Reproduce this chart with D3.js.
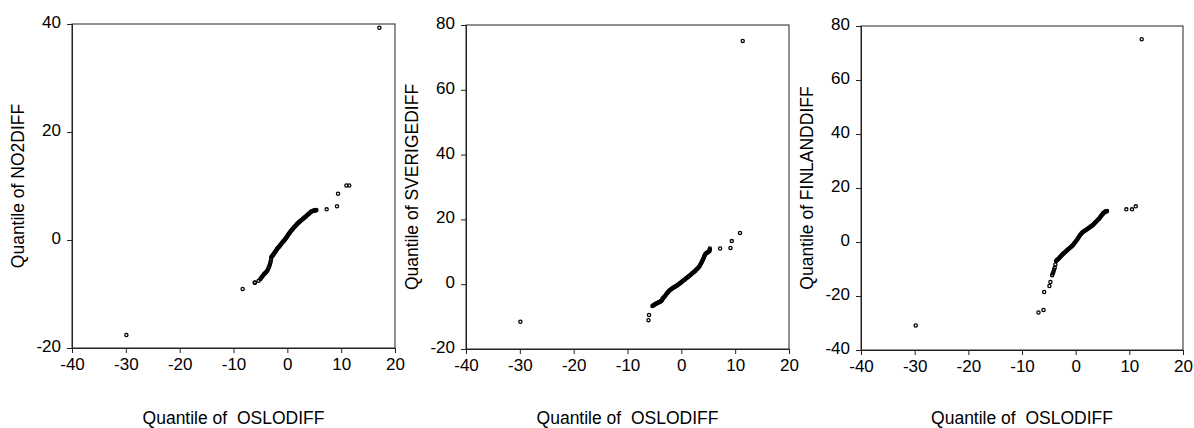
<!DOCTYPE html>
<html>
<head>
<meta charset="utf-8">
<script src="https://cdn.jsdelivr.net/npm/d3@7"></script>
<style>
  html, body { margin: 0; padding: 0; background: #fff; }
  svg { display: block; }
  text { font-family: Arial, "Liberation Sans", sans-serif; fill: #000; }
</style>
</head>
<body>
<svg id="chart" width="1194" height="428"></svg>
<script>
// Quantile pairs: x = quantiles of OSLODIFF, y = quantiles of the compared series
const no2X = [-29.9, -8.3, -6.07, -6.0, -5.33, -5.0, -4.85, -4.7, -4.55, -4.4, -4.25, -4.1, -3.93, -3.77,
  -3.63, -3.5, -3.39, -3.28, -3.19, -3.1, -3.03, -2.97, -2.88, -2.8, -2.7, -2.6, -2.5, -2.4, -2.31,
  -2.23, -2.11, -2.0, -1.9, -1.8, -1.67, -1.55, -1.42, -1.3, -1.17, -1.05, -0.92, -0.8, -0.67, -0.55,
  -0.46, -0.37, -0.26, -0.15, -0.05, 0.05, 0.15, 0.25, 0.34, 0.43, 0.56, 0.7, 0.82, 0.95, 1.07, 1.2,
  1.34, 1.49, 1.62, 1.75, 1.87, 2.0, 2.1, 2.2, 2.31, 2.42, 2.56, 2.7, 2.85, 3.0, 3.12, 3.25, 3.39,
  3.53, 3.66, 3.8, 3.95, 4.1, 4.25, 4.4, 4.55, 4.7, 4.85, 5.0, 5.1, 5.2, 5.3, 5.39,
  7.3, 9.23, 9.42, 10.97, 11.5, 17.1];
const no2Y = [-17.6, -9.07, -7.9, -7.85, -7.55, -7.2, -7.0, -6.8, -6.6, -6.4, -6.25, -6.1, -5.92, -5.74,
  -5.5, -5.2, -4.95, -4.63, -4.3, -4.0, -3.6, -3.2, -3.07, -2.95, -2.82, -2.7, -2.55, -2.4, -2.28,
  -2.16, -1.98, -1.8, -1.65, -1.5, -1.37, -1.25, -1.09, -0.93, -0.77, -0.6, -0.45, -0.3, -0.17, -0.05,
  0.07, 0.19, 0.35, 0.5, 0.65, 0.8, 0.95, 1.1, 1.22, 1.35, 1.52, 1.7, 1.85, 2.0, 2.15, 2.3,
  2.45, 2.6, 2.75, 2.9, 3.03, 3.15, 3.25, 3.35, 3.43, 3.5, 3.62, 3.75, 3.88, 4.0, 4.1, 4.2, 4.32,
  4.44, 4.57, 4.7, 4.83, 4.95, 5.1, 5.24, 5.32, 5.38, 5.42, 5.45, 5.48, 5.5, 5.53, 5.56,
  5.68, 6.24, 8.57, 10.1, 10.1, 39.3];

const sverigeX = [-29.9, -6.1, -6.0, -5.37, -5.23, -5.1, -4.95, -4.8, -4.65, -4.5, -4.35, -4.2, -4.05,
  -3.9, -3.8, -3.7, -3.6, -3.5, -3.4, -3.3, -3.15, -3.0, -2.83, -2.67, -2.53, -2.4, -2.25, -2.1,
  -1.95, -1.8, -1.65, -1.5, -1.35, -1.2, -1.06, -0.93, -0.76, -0.6, -0.45, -0.3, -0.15, 0.0, 0.15,
  0.3, 0.45, 0.6, 0.75, 0.9, 1.05, 1.2, 1.35, 1.5, 1.67, 1.85, 2.02, 2.2, 2.35, 2.5, 2.65, 2.8,
  2.95, 3.1, 3.25, 3.39, 3.52, 3.65, 3.77, 3.89, 4.0, 4.1, 4.18, 4.25, 4.35, 4.44, 4.57, 4.7, 4.85,
  5.0, 5.12, 5.24, 5.27, 5.3, 7.2, 9.13, 9.37, 10.9, 11.4];
const sverigeY = [-11.6, -11.1, -9.5, -6.7, -6.55, -6.4, -6.25, -6.1, -5.97, -5.85, -5.72, -5.6, -5.47,
  -5.35, -5.25, -5.14, -4.87, -4.6, -4.35, -4.1, -3.85, -3.6, -3.19, -2.78, -2.54, -2.3, -2.05, -1.8,
  -1.6, -1.4, -1.25, -1.1, -0.95, -0.8, -0.66, -0.52, -0.33, -0.15, 0.05, 0.25, 0.42, 0.6, 0.82,
  1.03, 1.22, 1.4, 1.6, 1.8, 2.0, 2.2, 2.4, 2.6, 2.85, 3.1, 3.35, 3.6, 3.8, 4.0, 4.25, 4.5,
  4.75, 5.0, 5.3, 5.65, 6.0, 6.4, 6.8, 7.2, 7.55, 7.9, 8.25, 8.6, 8.95, 9.26, 9.45, 9.6, 9.75,
  9.9, 10.1, 10.3, 10.65, 11.0, 11.0, 11.2, 13.3, 15.8, 75.1];

const finlandX = [-29.8, -6.93, -6.0, -5.87, -4.89, -4.7, -4.39, -4.27, -4.15, -4.03, -3.9, -3.78,
  -3.65, -3.52, -3.4, -3.25, -3.1, -2.95, -2.8, -2.68, -2.55, -2.43, -2.3, -2.15, -2.0, -1.85, -1.7,
  -1.55, -1.4, -1.22, -1.05, -0.9, -0.74, -0.6, -0.45, -0.3, -0.15, 0.02, 0.19, 0.35, 0.5, 0.65,
  0.8, 0.95, 1.1, 1.25, 1.4, 1.55, 1.7, 1.87, 2.04, 2.2, 2.35, 2.5, 2.65, 2.8, 2.95, 3.1, 3.26,
  3.4, 3.55, 3.7, 3.85, 4.02, 4.2, 4.35, 4.5, 4.63, 4.75, 4.88, 5.0, 5.1, 5.2, 5.32, 5.43, 5.52,
  5.6, 5.72, 5.85, 9.44, 10.5, 11.2, 12.3];
const finlandY = [-30.9, -26.1, -25.2, -18.5, -16.3, -14.8, -12.3, -11.7, -11.1, -10.3, -9.5, -8.3,
  -7.0, -6.75, -6.5, -6.25, -6.0, -5.65, -5.3, -5.05, -4.8, -4.55, -4.3, -4.05, -3.8, -3.5, -3.2,
  -2.95, -2.7, -2.4, -2.1, -1.85, -1.6, -1.3, -1.0, -0.6, -0.2, 0.2, 0.63, 1.1, 1.6, 2.05,
  2.48, 2.85, 3.2, 3.5, 3.8, 4.0, 4.2, 4.4, 4.6, 4.85, 5.1, 5.3, 5.5, 5.7, 5.9, 6.15, 6.4,
  6.7, 7.0, 7.3, 7.6, 7.95, 8.3, 8.65, 9.0, 9.35, 9.7, 10.0, 10.3, 10.55, 10.8, 10.95, 11.1, 11.2,
  11.3, 11.4, 11.5, 12.1, 12.1, 13.2, 75.1];

const xTicks = [-40, -30, -20, -10, 0, 10, 20];
const xTitle = "Quantile of  OSLODIFF";

const panels = [
  { title: "Quantile of NO2DIFF", xs: no2X, ys: no2Y, yDomain: [-20, 40], yTicks: [-20, 0, 20, 40],
    box: { left: 72, top: 24, right: 395, bottom: 348 } },
  { title: "Quantile of SVERIGEDIFF", xs: sverigeX, ys: sverigeY, yDomain: [-20, 80], yTicks: [-20, 0, 20, 40, 60, 80],
    box: { left: 466, top: 25, right: 789, bottom: 349 } },
  { title: "Quantile of FINLANDDIFF", xs: finlandX, ys: finlandY, yDomain: [-40, 80], yTicks: [-40, -20, 0, 20, 40, 60, 80],
    box: { left: 861, top: 26, right: 1183, bottom: 350 } }
];

const svg = d3.select("#chart");
const FONT_TICK = 17;
const FONT_TITLE = 17.5;
const plain = d => String(d);   // hyphen-minus labels

panels.forEach(p => {
  const b = p.box;
  const x = d3.scaleLinear().domain([-40, 20]).range([b.left, b.right]);
  const y = d3.scaleLinear().domain(p.yDomain).range([b.bottom, b.top]);
  const g = svg.append("g");

  // plot frame
  g.append("rect")
    .attr("x", b.left).attr("y", b.top)
    .attr("width", b.right - b.left).attr("height", b.bottom - b.top)
    .attr("fill", "none").attr("stroke", "#222").attr("stroke-width", 1);

  // left axis
  const ya = g.append("g")
    .attr("transform", `translate(${b.left},0)`)
    .call(d3.axisLeft(y).tickValues(p.yTicks).tickSize(5).tickPadding(6).tickFormat(plain));
  ya.select(".domain").attr("stroke", "#222");
  ya.selectAll(".tick line").attr("stroke", "#222");
  ya.selectAll(".tick text").attr("font-size", FONT_TICK).attr("font-family", "Arial, 'Liberation Sans', sans-serif")
    .attr("fill", "#000").attr("dy", "0.2em");

  // bottom axis
  const xa = g.append("g")
    .attr("transform", `translate(0,${b.bottom})`)
    .call(d3.axisBottom(x).tickValues(xTicks).tickSize(5).tickPadding(5).tickFormat(plain));
  xa.select(".domain").attr("stroke", "#222");
  xa.selectAll(".tick line").attr("stroke", "#222");
  xa.selectAll(".tick text").attr("font-size", FONT_TICK).attr("font-family", "Arial, 'Liberation Sans', sans-serif")
    .attr("fill", "#000");

  // axis titles
  g.append("text")
    .attr("x", (b.left + b.right) / 2).attr("y", 424)
    .attr("text-anchor", "middle").attr("font-size", FONT_TITLE)
    .style("white-space", "pre")
    .text(xTitle);
  g.append("text")
    .attr("transform", `translate(${b.left - 48},${(b.top + b.bottom) / 2}) rotate(-90)`)
    .attr("text-anchor", "middle").attr("font-size", FONT_TITLE)
    .text(p.title);

  // quantile points
  const pts = p.xs.map((v, i) => [v, p.ys[i]]);
  g.append("g").selectAll("circle")
    .data(pts)
    .join("circle")
    .attr("cx", d => x(d[0]))
    .attr("cy", d => y(d[1]))
    .attr("r", 1.6)
    .attr("fill", "none")
    .attr("stroke", "#000")
    .attr("stroke-width", 1.3);
});
</script>
</body>
</html>
